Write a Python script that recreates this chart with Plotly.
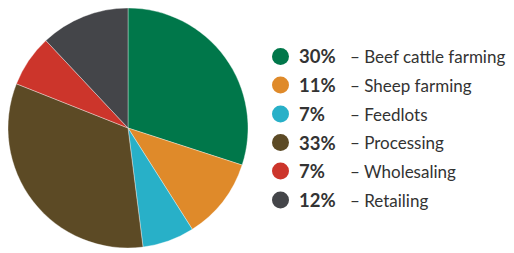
import plotly.graph_objects as go

labels = ["Beef cattle farming", "Sheep farming", "Feedlots", "Processing", "Wholesaling", "Retailing"]
values = [30, 11, 7, 33, 7, 12]
colors = ["#00774A", "#DF8A2A", "#28B0C8", "#5C4A25", "#CC352B", "#444549"]

# page body has an 8px margin; work in screen coordinates minus the offset
OFF = 8
W, H = 514 - OFF, 253 - OFF

def px(x):
    return (x - OFF) / W

def py(y):
    return 1 - (y - OFF) / H

fig = go.Figure()
fig.add_trace(go.Pie(
    labels=labels, values=values, sort=False, direction="clockwise", rotation=0,
    marker=dict(colors=colors, line=dict(color="rgba(255,255,255,0.6)", width=0.6)),
    textinfo="none", hoverinfo="label+percent", showlegend=False,
    domain=dict(x=[px(8), px(248)], y=[py(248), py(8)]),
))

row_y = [56.5, 85, 114, 142.5, 171, 200]
font = "Lato, 'Open Sans', sans-serif"
shapes = []
annotations = []
for i, (lab, val, col) in enumerate(zip(labels, values, colors)):
    yc = row_y[i]
    r = 8.5
    shapes.append(dict(type="circle", xref="paper", yref="paper",
                       x0=px(280.5 - r), x1=px(280.5 + r),
                       y0=py(yc + r), y1=py(yc - r),
                       fillcolor=col, line=dict(width=0)))
    annotations.append(dict(x=px(297), y=py(yc), xref="paper", yref="paper",
                            xanchor="left", yanchor="middle", showarrow=False,
                            text=f"<b>{val}%</b>",
                            font=dict(family=font, size=18.5, color="#333333")))
    annotations.append(dict(x=px(348), y=py(yc), xref="paper", yref="paper",
                            xanchor="left", yanchor="middle", showarrow=False,
                            text=f"– {lab}",
                            font=dict(family=font, size=17, color="#333333")))

fig.update_layout(width=W, height=H, margin=dict(l=0, r=0, t=0, b=0),
                  paper_bgcolor="white", plot_bgcolor="white",
                  shapes=shapes, annotations=annotations)
fig.write_html("out.html")
